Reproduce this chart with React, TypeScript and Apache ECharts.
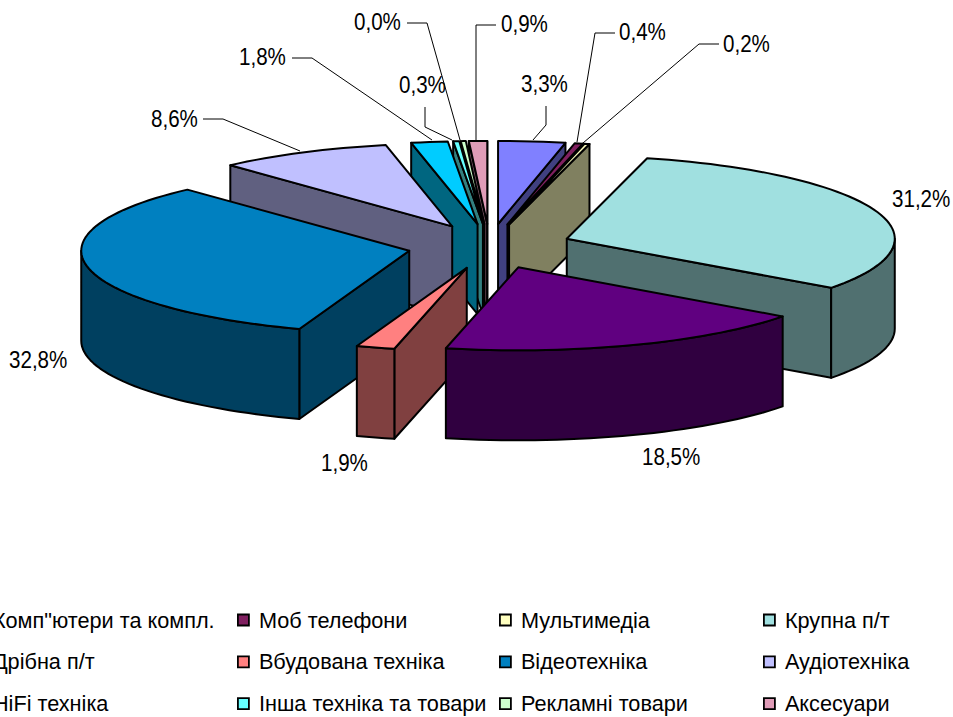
import React, { useEffect, useRef } from "react";
import * as echarts from "echarts";

const CATEGORIES = [
  'Комп"ютери та компл.', "Моб телефони", "Мультимедіа", "Крупна п/т",
  "Дрібна п/т", "Вбудована техніка", "Відеотехніка", "Аудіотехніка",
  "HiFi техніка", "Інша техніка та товари", "Рекламні товари", "Аксесуари",
];
const VALUES = [3.3, 0.4, 0.2, 31.2, 18.5, 1.9, 32.8, 8.6, 1.8, 0.3, 0.04, 0.9];
const COLORS = [
  "#8080FF", "#802060", "#FFFFC0", "#A0E0E0", "#600080", "#FF8080",
  "#0080C0", "#C0C0FF", "#00CCFF", "#66FFFF", "#CCFFCC", "#E09CB8",
];
// back-to-front painting sequence of the slices
const PAINT_ORDER = [11, 10, 9, 8, 0, 1, 2, 7, 3, 6, 5, 4];

const FONT = "'Liberation Sans', Arial, sans-serif";
const PIE = { cx: 489.6, cy: 246.3, rx: 328, ry: 83, depth: 90, explodeX: 0.25, explodeY: 0.27, minAngle: 0.9 };

// label box (left, middle) and leader line per category
const LABEL_LAYOUT: { x: number; y: number; leader: number[][] }[] = [
  { x: 521, y: 84, leader: [[546, 106], [546, 125], [533, 140]] },
  { x: 619, y: 32, leader: [[615, 33], [595, 33], [577, 142]] },
  { x: 723, y: 44, leader: [[719, 44], [699, 44], [583, 143]] },
  { x: 892, y: 199, leader: [] },
  { x: 642, y: 457, leader: [] },
  { x: 321, y: 463, leader: [] },
  { x: 9, y: 360, leader: [] },
  { x: 151, y: 119, leader: [[203, 119], [223, 119], [300, 151]] },
  { x: 239, y: 57, leader: [[292, 58], [312, 58], [432, 140]] },
  { x: 399, y: 85, leader: [[425, 107], [425, 127], [452, 140]] },
  { x: 354, y: 22, leader: [[407, 23], [427, 23], [460, 140]] },
  { x: 501, y: 24, leader: [[496, 25], [476, 25], [476, 140]] },
];

const LEGEND_COLUMNS = [
  { left: -29, items: [0, 4, 8] },
  { left: 237, items: [1, 5, 9] },
  { left: 499, items: [2, 6, 10] },
  { left: 763, items: [3, 7, 11] },
];

const rad = (d: number) => (d * Math.PI) / 180;

function halfShade(hex: string) {
  const n = parseInt(hex.slice(1), 16);
  const c = [(n >> 16) & 255, (n >> 8) & 255, n & 255].map((v) => Math.round(v / 2));
  return `rgb(${c[0]},${c[1]},${c[2]})`;
}

function sliceAngles() {
  const total = VALUES.reduce((a, b) => a + b, 0);
  const raw = VALUES.map((v) => Math.max((v / total) * 360, PIE.minAngle));
  const k = 360 / raw.reduce((a, b) => a + b, 0);
  let acc = 0;
  return raw.map((a) => {
    const s = acc;
    acc += a * k;
    return [s, acc];
  });
}

function renderSlice(index: number) {
  return (_params: any, api: any) => {
    const [a0, a1] = sliceAngles()[index];
    const color = COLORS[index];
    const wall = halfShade(color);
    const mid = (a0 + a1) / 2;
    const ax = PIE.cx + PIE.explodeX * PIE.rx * Math.sin(rad(mid));
    const ay = PIE.cy - PIE.explodeY * PIE.ry * Math.cos(rad(mid));
    const pt = (a: number) => [ax + PIE.rx * Math.sin(rad(a)), ay - PIE.ry * Math.cos(rad(a))];
    const arc = (from: number, to: number) => {
      const n = Math.max(2, Math.ceil((to - from) / 2));
      const out: number[][] = [];
      for (let i = 0; i <= n; i++) out.push(pt(from + ((to - from) * i) / n));
      return out;
    };
    const down = (p: number[]) => [p[0], p[1] + PIE.depth];
    const base = { stroke: "#000", lineWidth: 2, lineJoin: "round" };
    const poly = (points: number[][], fill: string) => ({
      type: "polygon",
      shape: { points },
      style: { ...base, fill },
    });
    const children: any[] = [];
    const apex = [ax, ay];
    if (Math.sin(rad(a0)) < 0) {
      const p = pt(a0);
      children.push(poly([apex, p, down(p), down(apex)], wall));
    }
    if (Math.sin(rad(a1)) > 0) {
      const p = pt(a1);
      children.push(poly([apex, p, down(p), down(apex)], wall));
    }
    const f0 = Math.max(a0, 90);
    const f1 = Math.min(a1, 270);
    if (f1 > f0) {
      const top = arc(f0, f1);
      children.push(poly([...top, ...top.slice().reverse().map(down)], wall));
    }
    children.push(poly([apex, ...arc(a0, a1)], color));
    return { type: "group", children };
  };
}

const labelText = (v: number) => v.toFixed(1).replace(".", ",") + "%";

export default function App() {
  const ref = useRef<HTMLDivElement>(null);
  useEffect(() => {
    document.body.style.margin = "0";
    const chart = echarts.init(ref.current!, undefined, { renderer: "svg" });
    const graphic: any[] = [];
    LABEL_LAYOUT.forEach((l, i) => {
      graphic.push({
        type: "text",
        x: l.x,
        y: l.y,
        scaleY: 1.18,
        z: 100,
        style: {
          text: labelText(VALUES[i]),
          font: `20.6px ${FONT}`,
          fill: "#000",
          verticalAlign: "middle",
        },
      });
      if (l.leader.length) {
        graphic.push({
          type: "polyline",
          z: 100,
          shape: { points: l.leader },
          style: { stroke: "#000", lineWidth: 1, fill: "none" },
        });
      }
    });
    chart.setOption({
      animation: false,
      backgroundColor: "#fff",
      legend: LEGEND_COLUMNS.map((c) => ({
        orient: "vertical",
        left: c.left,
        top: 609,
        padding: 0,
        itemGap: 19.8,
        itemWidth: 11,
        itemHeight: 11,
        icon: "rect",
        selectedMode: false,
        data: c.items.map((i) => CATEGORIES[i]),
        itemStyle: { borderColor: "#000", borderWidth: 1.8 },
        textStyle: {
          fontFamily: FONT,
          fontSize: 21.7,
          color: "#000",
          padding: [0, 0, 0, 5],
        },
      })),
      graphic,
      series: CATEGORIES.map((name, i) => ({
        type: "custom",
        name,
        coordinateSystem: "none",
        z: 2 + PAINT_ORDER.indexOf(i),
        silent: true,
        itemStyle: { color: COLORS[i] },
        data: [[VALUES[i]]],
        renderItem: renderSlice(i),
      })),
    });
    return () => chart.dispose();
  }, []);
  return <div ref={ref} style={{ position: "fixed", left: 0, top: 0, width: 953, height: 717 }} />;
}
